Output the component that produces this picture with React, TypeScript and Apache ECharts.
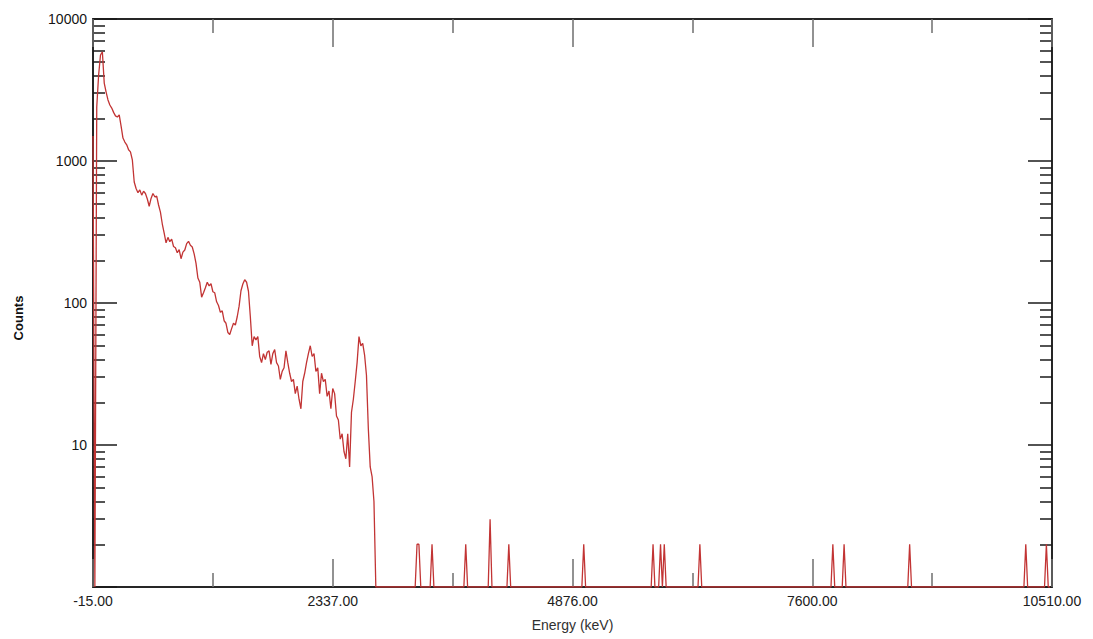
import { useEffect, useRef } from "react";
import * as echarts from "echarts";

// Number of analyser channels shown across the energy axis
const CHANNEL_COUNT = 512;

// Counts per channel for the continuous part of the spectrum (channels 0..151)
const spectrumCounts = [
  1500, 0, 2400, 4030, 5580, 5860, 3540, 3060, 2690, 2480,
  2360, 2200, 2080, 2040, 2110, 1760, 1450, 1360, 1300, 1200,
  1160, 1020, 711, 640, 598, 626, 575, 612, 590, 540,
  480, 545, 590, 560, 565, 490, 437, 360, 310, 265,
  290, 270, 282, 250, 245, 226, 238, 205, 228, 236,
  262, 272, 255, 248, 222, 190, 150, 140, 110, 118,
  128, 140, 132, 137, 120, 118, 102, 96, 86, 88,
  75, 72, 62, 60, 66, 72, 70, 80, 95, 122,
  136, 146, 140, 121, 80, 50, 58, 55, 58, 42,
  38, 44, 40, 45, 46, 37, 44, 47, 38, 36,
  29, 33, 35, 46, 38, 32, 28, 29, 23, 26,
  21, 18, 28, 32, 38, 44, 50, 42, 44, 33,
  35, 23, 32, 28, 29, 22, 24, 18, 25, 23,
  16, 15, 11, 12, 9, 8, 12, 7, 17, 21,
  28, 38, 58, 50, 52, 43, 31, 13, 7, 6,
  4, 0,
];

// Isolated high-energy events
const spikeChannels = [173, 174, 181, 199, 212, 222, 262, 299, 303, 305, 324, 395, 401, 436, 498, 509];
const spikeCounts = [2, 2, 2, 2, 3, 2, 2, 2, 2, 2, 2, 2, 2, 2, 2, 2];

// Calibrated energy labels at each quarter of the channel range
const energyLabels = ["-15.00", "2337.00", "4876.00", "7600.00", "10510.00"];

// Decades of the logarithmic count axis (log10 values 0..4)
const countDecades = [1, 10, 100, 1000, 10000];
const minorMultipliers = [2, 3, 4, 5, 6, 7, 8, 9];

const FONT = '"Liberation Sans", Arial, Helvetica, sans-serif';

function buildChannelCounts(): number[] {
  const counts = new Array(CHANNEL_COUNT).fill(0);
  spectrumCounts.forEach((c, i) => {
    counts[i] = c;
  });
  spikeChannels.forEach((ch, i) => {
    counts[ch] = spikeCounts[i];
  });
  return counts;
}

export default function App() {
  const ref = useRef<HTMLDivElement>(null);

  useEffect(() => {
    document.body.style.margin = "0";
    if (!ref.current) return;
    const chart = echarts.init(ref.current, undefined, { renderer: "svg" });

    const counts = buildChannelCounts();
    const seriesData = counts.map((c, ch) => [ch, c > 0 ? Math.log10(c) : 0]);

    const logMax = Math.log10(countDecades[countDecades.length - 1]);
    const minorTickValues: number[] = [];
    for (let d = 0; d < countDecades.length - 1; d++) {
      minorMultipliers.forEach((m) => minorTickValues.push(Math.log10(m) + d));
    }

    const axisLineStyle = { color: "#262626", width: 2 };
    const xTickStyle = { color: "#6e6e6e", width: 1.5 };
    const yTickStyle = { color: "#1a1a1a", width: 1.5 };

    const baseX = {
      type: "value" as const,
      min: 0,
      max: CHANNEL_COUNT,
      interval: CHANNEL_COUNT / 4,
      axisLine: { show: true, onZero: false, lineStyle: axisLineStyle },
      axisTick: { show: true, inside: true, length: 28, lineStyle: xTickStyle },
      minorTick: { show: true, splitNumber: 2, length: 14, lineStyle: xTickStyle },
      splitLine: { show: false },
      minorSplitLine: { show: false },
    };

    const majorY = {
      type: "value" as const,
      min: 0,
      max: logMax,
      interval: 1,
      axisLine: { show: true, onZero: false, lineStyle: axisLineStyle },
      axisTick: { show: true, inside: true, length: 24, lineStyle: yTickStyle },
      splitLine: { show: false },
    };

    const minorY = {
      type: "value" as const,
      min: 0,
      max: logMax,
      interval: 1,
      axisLine: { show: false, onZero: false },
      axisTick: { show: true, inside: true, length: 12, customValues: minorTickValues, lineStyle: yTickStyle },
      axisLabel: { show: false },
      splitLine: { show: false },
    };

    chart.setOption({
      animation: false,
      backgroundColor: "#ffffff",
      grid: {
        left: 93,
        right: 41,
        top: 19,
        bottom: 52,
        containLabel: false,
        outerBoundsMode: "none",
      },
      xAxis: [
        {
          ...baseX,
          position: "bottom",
          axisLabel: {
            show: true,
            margin: 7,
            fontSize: 14,
            fontFamily: FONT,
            color: "#202020",
            formatter: (v: number) => energyLabels[Math.round(v / (CHANNEL_COUNT / 4))] ?? "",
          },
          name: "Energy (keV)",
          nameLocation: "middle",
          nameGap: 31,
          nameTextStyle: { fontSize: 14, fontFamily: FONT, color: "#303030" },
        },
        {
          ...baseX,
          position: "top",
          axisLabel: { show: false },
        },
      ],
      yAxis: [
        {
          ...majorY,
          position: "left",
          axisLabel: {
            show: true,
            margin: 6,
            fontSize: 14,
            fontFamily: FONT,
            color: "#151515",
            formatter: (v: number) => (v === 0 ? "" : String(countDecades[Math.round(v)])),
          },
        },
        { ...minorY, position: "left" },
        { ...majorY, position: "right", axisLabel: { show: false } },
        { ...minorY, position: "right" },
      ],
      series: [
        {
          type: "line",
          xAxisIndex: 0,
          yAxisIndex: 0,
          data: seriesData,
          showSymbol: false,
          symbol: "none",
          lineStyle: { color: "#c23434", width: 1.3 },
          z: 5,
        },
      ],
      graphic: [
        {
          type: "text",
          x: 18,
          y: 318,
          rotation: Math.PI / 2,
          style: {
            text: "Counts",
            font: `bold 13px ${FONT}`,
            fill: "#111111",
            align: "center",
            verticalAlign: "middle",
          },
        },
      ],
    });

    return () => {
      chart.dispose();
    };
  }, []);

  return <div ref={ref} style={{ width: 1093, height: 639 }} />;
}
